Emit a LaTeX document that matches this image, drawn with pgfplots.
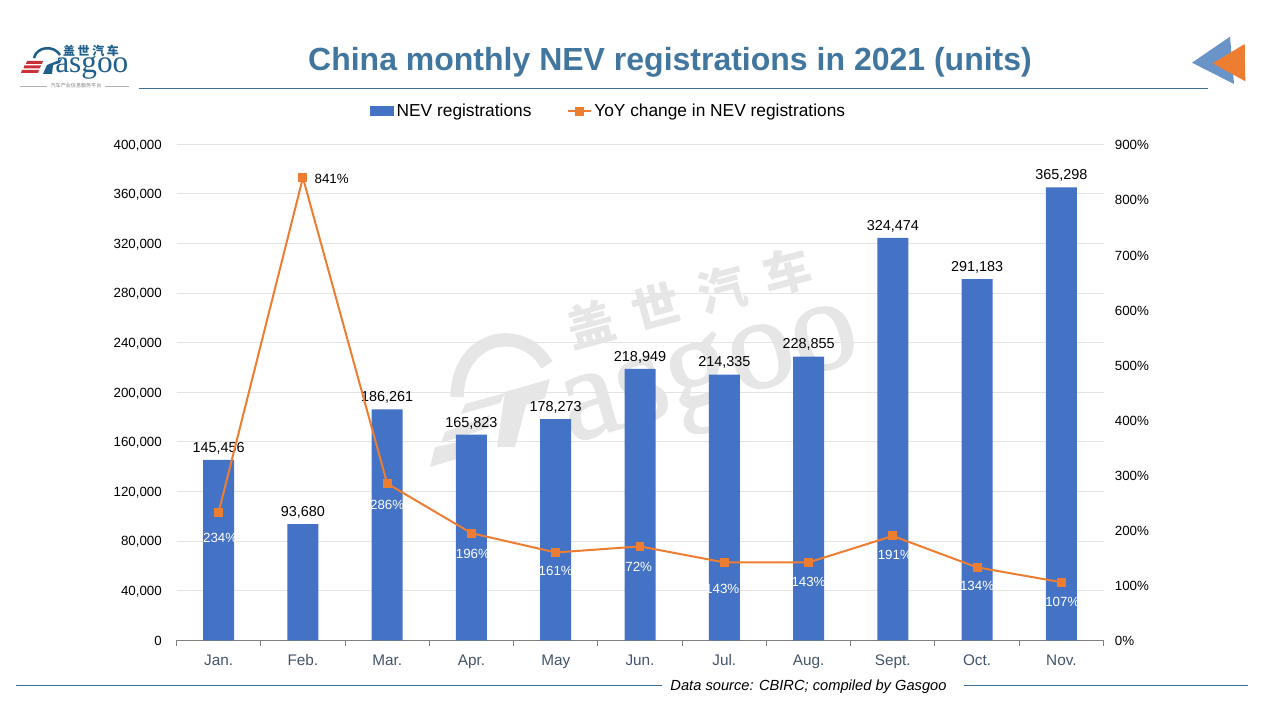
\documentclass[border=0pt]{standalone}
\usepackage{fontspec}
\setmainfont{Liberation Sans}
\newfontfamily\cjk{Noto Sans CJK SC}
\newfontfamily\logoserif{Liberation Serif}
\newfontfamily\markserif[FakeBold=1.2]{Liberation Serif}
\usepackage{pgfplots}
\usepackage{pgfplotstable}
\pgfplotsset{compat=1.18}

\definecolor{barblue}{HTML}{4472C4}
\definecolor{lineorange}{HTML}{ED7D31}
\definecolor{titleblue}{HTML}{41769F}
\definecolor{rulecol}{HTML}{3E6E94}
\definecolor{catcol}{HTML}{44546A}
\definecolor{gridcol}{HTML}{E4E4E4}
\definecolor{markcol}{HTML}{E6E6E6}
\definecolor{logoblue}{HTML}{1F5F8B}
\definecolor{logored}{HTML}{C8303A}
\definecolor{arrowblue}{HTML}{6A93C8}

\pgfplotstableread{
x regs
0 145456
1 93680
2 186261
3 165823
4 178273
5 218949
6 214335
7 228855
8 324474
9 291183
10 365298
}\regtable

% dx, dy: label offset from the marker, in reference pixels; blk: 100 black, 0 white
\pgfplotstableread{
x yoy dx dy blk
0 234 1.5 26 0
1 841 28.8 1 100
2 286 0 21 0
3 196 1.5 21 0
4 161 0 18.5 0
5 172 -5 20.5 0
6 143 -2 26.5 0
7 143 0 19.5 0
8 191 2 19 0
9 134 0 19 0
10 107 1 19.5 0
}\yoytable

\begin{document}
\begin{tikzpicture}[x=0.75pt,y=-0.75pt]
\useasboundingbox (0,0) rectangle (1280,720);
\coordinate (o) at (176.5,640.3);
\coordinate (o2) at (176.5,641.2);

% watermark
\begin{scope}[markcol]
\node[rotate=15,font=\cjk\bfseries\fontsize{36}{36}\selectfont] at (689,298) {盖\hspace{14.8pt}世\hspace{14.8pt}汽\hspace{14.8pt}车};
\node[rotate=16,font=\markserif\fontsize{98}{98}\selectfont] at (712,382) {asgoo};
\draw[line width=10pt] (457,397) .. controls (458,335) and (522,322) .. (547,365);
\fill (550,379) -- (505,392) -- (497,447) -- (515,447) -- (526,405) -- (545,398) -- cycle;
\fill (465,404) -- (505,393) -- (500,403) -- (461,414) -- cycle;
\fill (445,432) -- (490,415) -- (488,428) -- (441,443) -- cycle;
\fill (435,447) -- (485,437) -- (486,450) -- (430,467) -- cycle;
\end{scope}

% logo
\draw[logoblue,line width=1.9pt] (34,58) .. controls (37,46) and (54,45) .. (60,55);
\fill[logoblue] (62,59) -- (47,65) -- (43,74) -- (52,74) -- (53,65) -- (60,63) -- cycle;
\node[logoblue,anchor=base west,inner sep=0pt,font=\logoserif\fontsize{23.5}{23.5}\selectfont] at (55,73) {asgoo};
\node[logoblue,font=\cjk\bfseries\fontsize{9}{9}\selectfont] at (91,51) {盖\hspace{2pt}世\hspace{2pt}汽\hspace{2pt}车};
\fill[logored] (27,61) -- (43,61) -- (42,64) -- (26,64) -- cycle;
\fill[logored] (24.5,65.5) -- (41,65.5) -- (40,68.5) -- (23.5,68.5) -- cycle;
\fill[logored] (22,70) -- (39,70) -- (38,73) -- (21,73) -- cycle;
\draw[gray!60,line width=0.4pt] (20,86) -- (47,86) (105,86) -- (129,86);
\node[gray,font=\cjk\fontsize{3.8}{3.8}\selectfont] at (76,86) {汽车产业信息服务平台};

% arrows top right
\fill[arrowblue] (1192,62.7) -- (1230,36.7) -- (1234,84) -- cycle;
\fill[lineorange] (1212.7,63.3) -- (1244.7,44) -- (1245.3,81.3) -- cycle;

% title and rules
\node[titleblue,font=\bfseries\fontsize{24}{24}\selectfont] at (670,62) {China monthly NEV registrations in 2021 (units)};
\draw[rulecol,line width=0.75pt] (139,88.3) -- (1208,88.3);
\draw[rulecol,line width=0.75pt] (16,685) -- (662,685) (964,685) -- (1248,685);
\node[font=\itshape\fontsize{11}{11}\selectfont] at (808.5,686.5) {Data source: CBIRC; compiled by Gasgoo};

% bars, left axis
\begin{axis}[
at={(o)},
anchor=south west,
scale only axis,
width=695.25pt,
height=372pt,
clip=false,
axis x line=bottom,
axis y line=left,
axis line style={-},
y axis line style={draw=none},
x axis line style={color=gray,line width=0.75pt},
xmin=-0.5,
xmax=10.5,
ymin=0,
ymax=400000,
xtick={0,...,10},
xticklabels={Jan.,Feb.,Mar.,Apr.,May,Jun.,Jul.,Aug.,Sept.,Oct.,Nov.},
minor xtick={-0.5,0.5,...,10.5},
tick align=outside,
major tick length=0pt,
minor tick length=4pt,
every minor tick/.append style={color=gray,line width=0.75pt},
x tick label style={font=\fontsize{11.5}{11.5}\selectfont,text=catcol,yshift=-6pt,text height=9pt,text depth=2.5pt},
ytick={0,40000,...,400000},
y tick label style={font=\fontsize{10}{10}\selectfont,xshift=-7.5pt,yshift=-0.75pt},
scaled y ticks=false,
ymajorgrids=true,
grid style={color=gridcol,line width=0.75pt},
/pgf/number format/.cd,fixed,1000 sep={,},assume math mode=true,
]
\addplot[ybar,bar width=23.25pt,bar shift=0pt,fill=barblue,draw=none,
  nodes near coords,
  nodes near coords style={font=\fontsize{10.8}{10.8}\selectfont,text=black,yshift=0.75pt},
] table[x=x,y=regs] {\regtable};
\end{axis}

% line, right axis
\begin{axis}[
at={(o2)},
anchor=south west,
scale only axis,
width=695.25pt,
height=372pt,
clip=false,
axis x line=none,
axis y line*=right,
y axis line style={draw=none},
xmin=-0.5,
xmax=10.5,
ymin=0,
ymax=900,
ytick={0,100,...,900},
yticklabel={\pgfmathprintnumber[assume math mode=true]{\tick}\%},
major tick length=0pt,
y tick label style={font=\fontsize{10}{10}\selectfont,xshift=5pt},
legend style={at={(0.4665,1.0685)},anchor=center,draw=none,fill=none,
  font=\fontsize{13}{13}\selectfont,legend columns=2,
  /tikz/every even column/.append style={column sep=24.5pt}},
]
\addlegendimage{legend image code/.code={\fill[barblue] (0pt,-3pt) rectangle (17.5pt,3.5pt);}}
\addlegendentry{NEV registrations}
\addplot[color=lineorange,line width=1.5pt,mark=square*,mark size=2.6pt,
  mark options={fill=lineorange,draw=none},
  visualization depends on={\thisrow{dx} \as \ldx},
  visualization depends on={\thisrow{dy} \as \ldy},
  visualization depends on={\thisrow{blk} \as \lblk},
  point meta=y,
  nodes near coords={\pgfmathprintnumber[fixed,precision=0,assume math mode=true]{\pgfplotspointmeta}\%},
  nodes near coords style={anchor=center,font=\fontsize{10}{10}\selectfont,
    text={black!\lblk!white},xshift=\ldx*0.75pt,yshift=-\ldy*0.75pt},
] table[x=x,y=yoy] {\yoytable};
\addlegendentry{YoY change in NEV registrations}
\end{axis}
\end{tikzpicture}
\end{document}
